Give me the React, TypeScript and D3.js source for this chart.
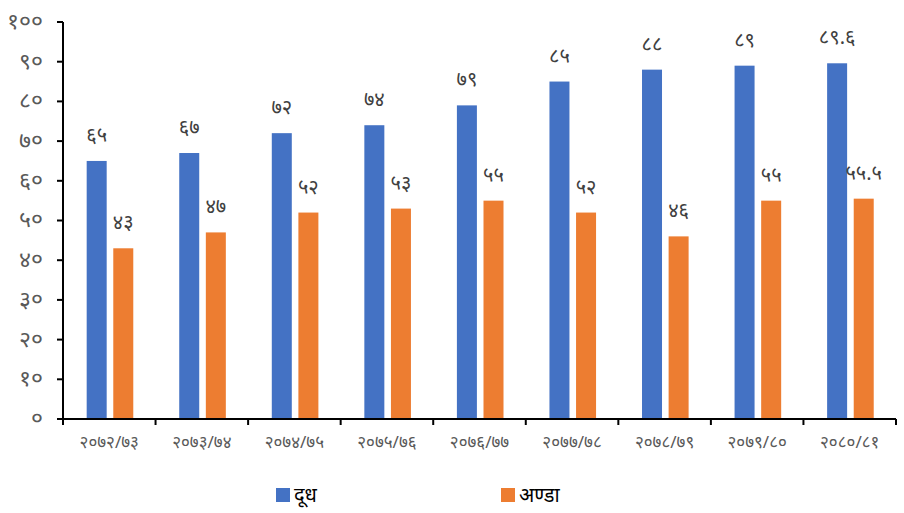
import React from "react";
import * as d3 from "d3";

const categories = ["२०७२/७३", "२०७३/७४", "२०७४/७५", "२०७५/७६", "२०७६/७७", "२०७७/७८", "२०७८/७९", "२०७९/८०", "२०८०/८१"];
const milk = [65, 67, 72, 74, 79, 85, 88, 89, 89.6];
const eggs = [43, 47, 52, 53, 55, 52, 46, 55, 55.5];
const seriesNames = ["दूध", "अण्डा"];
const yTicks = [0, 10, 20, 30, 40, 50, 60, 70, 80, 90, 100];

const DEV = "०१२३४५६७८९";
const toDev = (n: number) => String(n).replace(/[0-9]/g, (d) => DEV[+d]);

const W = 904, H = 513;
const left = 63, right = 896, top = 22, bottom = 419;
const font = "'Noto Sans', 'Noto Sans Devanagari', 'DejaVu Sans', sans-serif";

export default function App() {
  const x = d3.scaleBand<string>().domain(categories).range([left, right]).padding(0);
  const y = d3.scaleLinear().domain([0, 100]).range([bottom, top]);
  const barW = 20;
  const series = [
    { name: seriesNames[0], values: milk, color: "#4472C4", off: -22.6 },
    { name: seriesNames[1], values: eggs, color: "#ED7D31", off: 4 },
  ];
  const bw = x.bandwidth();
  return (
    <svg width={W} height={H} style={{ position: "absolute", left: 0, top: 0, fontFamily: font }}>
      <rect width={W} height={H} fill="#fff" />
      {series.map((s) =>
        s.values.map((v, i) => {
          const cx = (x(categories[i]) as number) + bw / 2;
          const x0 = cx + s.off;
          return (
            <g key={s.name + i}>
              <rect x={x0} y={y(v)} width={barW} height={bottom - y(v)} fill={s.color} />
              <text x={x0 + barW / 2} y={y(v) - 26} dy="0.35em" textAnchor="middle" fontSize={20} fill="#404040">
                {toDev(v)}
              </text>
            </g>
          );
        })
      )}
      {/* y axis */}
      <line x1={left} x2={left} y1={top} y2={bottom} stroke="#000" strokeWidth={2} />
      {yTicks.map((t) => (
        <g key={t}>
          <line x1={left - 6} x2={left} y1={y(t)} y2={y(t)} stroke="#000" strokeWidth={2} />
          <text x={43} y={y(t)} dy="0.3em" textAnchor="end" fontSize={23} fill="#595959">
            {toDev(t)}
          </text>
        </g>
      ))}
      {/* x axis */}
      <line x1={left - 6} x2={right} y1={bottom} y2={bottom} stroke="#000" strokeWidth={2} />
      {categories.map((c, i) => (
        <g key={c}>
          <line x1={x(c)} x2={x(c)} y1={bottom} y2={bottom + 6} stroke="#000" strokeWidth={2} />
          {i === categories.length - 1 && (
            <line x1={right} x2={right} y1={bottom} y2={bottom + 6} stroke="#000" strokeWidth={2} />
          )}
          <text x={(x(c) as number) + bw / 2} y={442} dy="0.35em" textAnchor="middle" fontSize={17} fill="#595959">
            {c}
          </text>
        </g>
      ))}
      {/* legend */}
      {series.map((s, i) => {
        const lx = i === 0 ? 276 : 501;
        return (
          <g key={s.name}>
            <rect x={lx} y={488} width={14} height={14} fill={s.color} />
            <text x={lx + 18} y={502} fontSize={20} fill="#000">
              {s.name}
            </text>
          </g>
        );
      })}
    </svg>
  );
}
